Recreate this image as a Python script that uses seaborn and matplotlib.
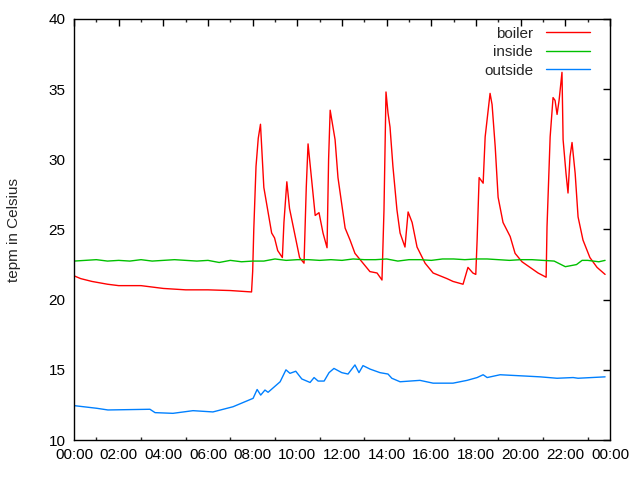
import pandas as pd
import matplotlib
matplotlib.use("Agg")
import matplotlib.pyplot as plt
import seaborn as sb

# hours since midnight and temperatures
boiler_hours = [0.0, 0.3, 0.8, 1.5, 2.0, 3.0, 4.0, 5.0, 6.0, 7.0, 7.95, 8.0, 8.05, 8.15, 8.25,
                8.35, 8.5, 8.85, 8.98, 9.12, 9.33, 9.4, 9.53, 9.65, 10.1, 10.3, 10.4, 10.48,
                10.8, 10.97, 11.15, 11.33, 11.4, 11.47, 11.69, 11.82, 12.14, 12.36, 12.58,
                13.25, 13.57, 13.79, 13.88, 13.97, 14.06, 14.15, 14.28, 14.46, 14.6, 14.82,
                14.96, 15.14, 15.36, 15.72, 16.08, 16.7, 16.97, 17.42, 17.64, 17.86, 17.99,
                18.05, 18.14, 18.32, 18.41, 18.63, 18.72, 18.86, 18.99, 19.21, 19.53, 19.75,
                20.06, 20.42, 20.78, 21.14, 21.18, 21.32, 21.45, 21.54, 21.63, 21.72, 21.85,
                21.9, 22.03, 22.12, 22.21, 22.3, 22.44, 22.57, 22.79, 23.1, 23.42, 23.78]
boiler_temp = [21.7, 21.5, 21.3, 21.1, 21.0, 21.0, 20.8, 20.7, 20.7, 20.65, 20.55, 22.0, 25.0,
               29.5, 31.5, 32.5, 28.0, 24.75, 24.4, 23.5, 23.0, 25.5, 28.4, 26.5, 23.0, 22.6,
               28.0, 31.1, 26.0, 26.2, 24.75, 23.7, 30.0, 33.5, 31.4, 28.7, 25.1, 24.25, 23.3,
               22.0, 21.9, 21.4, 26.4, 34.8, 33.3, 32.3, 29.5, 26.4, 24.75, 23.75, 26.25, 25.5,
               23.75, 22.6, 21.9, 21.5, 21.3, 21.1, 22.3, 21.9, 21.8, 24.25, 28.7, 28.3, 31.6,
               34.7, 33.9, 30.9, 27.3, 25.5, 24.5, 23.3, 22.7, 22.3, 21.9, 21.6, 25.2, 31.6,
               34.4, 34.2, 33.2, 34.2, 36.2, 31.4, 29.0, 27.6, 30.2, 31.2, 29.0, 25.9, 24.25,
               23.0, 22.3, 21.8]

inside_hours = [0.0, 0.5, 1.0, 1.5, 2.0, 2.5, 3.0, 3.5, 4.0, 4.5, 5.0, 5.5, 6.0, 6.5, 7.0,
                7.5, 8.0, 8.5, 9.0, 9.5, 10.0, 10.5, 11.0, 11.5, 12.0, 12.5, 13.0, 13.5, 14.0,
                14.5, 15.0, 15.5, 16.0, 16.5, 17.0, 17.5, 18.0, 18.5, 19.0, 19.5, 20.0, 20.5,
                21.0, 21.5, 22.0, 22.5, 22.75, 23.0, 23.5, 23.78]
inside_temp = [22.75, 22.8, 22.85, 22.75, 22.8, 22.75, 22.85, 22.75, 22.8, 22.85, 22.8, 22.75,
               22.8, 22.65, 22.8, 22.7, 22.75, 22.75, 22.9, 22.8, 22.85, 22.85, 22.8, 22.85,
               22.8, 22.9, 22.85, 22.85, 22.9, 22.75, 22.85, 22.85, 22.8, 22.9, 22.9, 22.85,
               22.9, 22.9, 22.85, 22.8, 22.85, 22.85, 22.8, 22.75, 22.35, 22.5, 22.8, 22.8,
               22.7, 22.8]

outside_hours = [0.0, 1.02, 1.52, 3.4, 3.63, 4.43, 5.33, 6.22, 7.12, 8.02, 8.2, 8.36, 8.55,
                 8.69, 9.23, 9.49, 9.67, 9.93, 10.2, 10.57, 10.75, 10.93, 11.2, 11.42, 11.64,
                 11.99, 12.27, 12.58, 12.76, 12.94, 13.26, 13.7, 14.06, 14.23, 14.6, 15.49,
                 16.08, 16.97, 17.6, 18.05, 18.32, 18.5, 19.08, 20.29, 20.87, 21.63, 22.35,
                 22.57, 23.78]
outside_temp = [12.45, 12.26, 12.14, 12.19, 11.95, 11.9, 12.09, 12.0, 12.37, 12.97, 13.6, 13.2,
                13.56, 13.4, 14.15, 15.0, 14.75, 14.9, 14.35, 14.1, 14.45, 14.2, 14.2, 14.8,
                15.1, 14.8, 14.7, 15.35, 14.8, 15.3, 15.05, 14.8, 14.7, 14.4, 14.15, 14.25,
                14.05, 14.05, 14.25, 14.45, 14.65, 14.45, 14.65, 14.55, 14.5, 14.4, 14.45,
                14.4, 14.5]

tick_hours = list(range(0, 25, 2))
tick_labels = ["00:00", "02:00", "04:00", "06:00", "08:00", "10:00", "12:00",
               "14:00", "16:00", "18:00", "20:00", "22:00", "00:00"]

sb.set_style("white")
plt.rcParams["font.family"] = ["Liberation Sans", "DejaVu Sans"]

fig = plt.figure(figsize=(6.4, 4.8), dpi=100)
ax = fig.add_axes([74 / 640, 40 / 480, 536 / 640, 421 / 480])

series = [("boiler", boiler_hours, boiler_temp, "#ff0000"),
          ("inside", inside_hours, inside_temp, "#00c000"),
          ("outside", outside_hours, outside_temp, "#0080ff")]
for name, hours, temps, color in series:
    df = pd.DataFrame({"hour": hours, "temp": temps})
    sb.lineplot(data=df, x="hour", y="temp", color=color, linewidth=1, label=name,
                estimator=None, ax=ax)

ax.set_xlim(0, 24)
ax.set_ylim(10, 40)
ax.set_xticks(tick_hours)
ax.set_xticklabels(tick_labels)
ax.set_xticks(range(0, 25), minor=True)
ax.set_yticks(range(10, 41, 5))
ax.set_xlabel("")
ax.set_ylabel("tepm in Celsius", fontsize=11, labelpad=20)

for s in ax.spines.values():
    s.set_visible(True)
    s.set_color("black")
    s.set_linewidth(1)
ax.tick_params(axis="both", which="major", direction="in", length=5, width=1,
               top=True, right=True, labelsize=11, colors="black", pad=6)
ax.tick_params(axis="x", which="minor", direction="in", length=2.5, width=1,
               top=True, bottom=True)
ax.tick_params(axis="y", which="minor", left=False, right=False)

ax.legend(loc="upper right", bbox_to_anchor=(521 / 536, 1 - 3 / 421), frameon=False,
          markerfirst=False, fontsize=11, handlelength=2.9, labelspacing=0.3,
          borderaxespad=0.0, borderpad=0.3, handletextpad=0.85)

fig.savefig("out.png", dpi=100)
